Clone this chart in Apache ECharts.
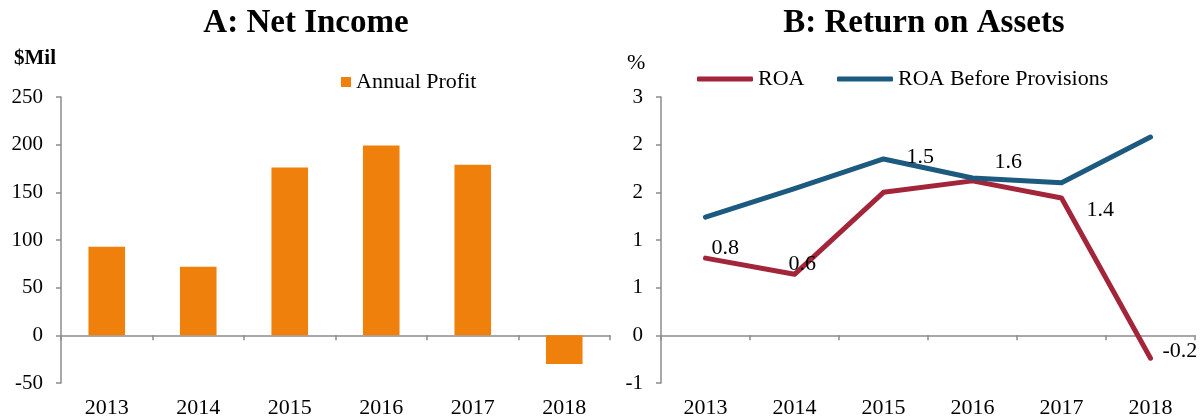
<!DOCTYPE html>
<html>
<head>
<meta charset="utf-8">
<title>Net Income / Return on Assets</title>
<script src="https://cdn.jsdelivr.net/npm/echarts@6/dist/echarts.min.js"></script>
<style>
  html, body { margin: 0; padding: 0; background: #fff; }
  #chart { width: 1201px; height: 419px; }
</style>
</head>
<body>
<div id="chart"></div>
<script>
// data
const years = ['2013', '2014', '2015', '2016', '2017', '2018'];
const annualProfit = [93, 72, 176, 199, 179, -30];
const roa = [0.81, 0.64, 1.50, 1.62, 1.44, -0.24];
const roaBeforeProvisions = [1.24, 1.54, 1.85, 1.65, 1.60, 2.08];

const FONT = '"Liberation Serif", "Times New Roman", serif';
const GRAY = '#8c8c8c';
const ORANGE = '#F0800C';
const RED = '#A2253A';
const BLUE = '#1C5A80';

// Excel style rounding of tick labels (2.5 -> 3, -0.5 -> -1)
const roundAway = v => Math.sign(v) * Math.round(Math.abs(v));

const chart = echarts.init(document.getElementById('chart'));

// axis line + ticks sitting on zero
const zeroAxis = (gridIndex) => ({
  gridIndex,
  type: 'category',
  data: years,
  axisLine: { onZero: true, lineStyle: { color: GRAY, width: 1.5 } },
  axisTick: { show: true, length: 5, lineStyle: { color: GRAY, width: 1.5 } },
  axisLabel: { show: false }
});

// year labels at the bottom of the plot
const labelAxis = (gridIndex) => ({
  gridIndex,
  type: 'category',
  data: years,
  position: 'bottom',
  axisLine: { show: false, onZero: false },
  axisTick: { show: false },
  axisLabel: { margin: 14, fontFamily: FONT, fontSize: 22, color: '#000' }
});

const yAxisBase = (gridIndex) => ({
  gridIndex,
  type: 'value',
  splitLine: { show: false },
  axisLine: { show: true, lineStyle: { color: GRAY, width: 1.5 } },
  axisTick: { show: true, length: 5, lineStyle: { color: GRAY, width: 1.5 } },
  axisLabel: { margin: 18, fontFamily: FONT, fontSize: 21, color: '#000' }
});

const textEl = (text, x, y, size, bold, align) => ({
  type: 'text',
  x, y,
  style: {
    text,
    font: (bold ? 'bold ' : '') + size + 'px ' + FONT,
    fill: '#000',
    align, textAlign: align,
    verticalAlign: 'middle', textVerticalAlign: 'middle'
  }
});

// label offsets for ROA points (right of the point)
const roaLabelOffsets = [[0, -10], [-12, -10], [17, -35], [16, -19], [19, 12], [6, -7]];

chart.setOption({
  animation: false,
  textStyle: { fontFamily: FONT },
  graphic: [
    textEl('A: Net Income', 306, 23, 33, true, 'center'),
    textEl('B: Return on Assets', 924, 23, 33, true, 'center'),
    textEl('$Mil', 14, 59, 21, true, 'left'),
    textEl('%', 627, 63, 22, false, 'left')
  ],
  legend: [
    {
      data: ['Annual Profit'], left: 341, top: 71, padding: 0,
      icon: 'rect', itemWidth: 10, itemHeight: 10,
      textStyle: { fontFamily: FONT, fontSize: 22, color: '#000' }
    },
    {
      data: ['ROA'], left: 697, top: 68, padding: 0,
      icon: 'roundRect', itemWidth: 56, itemHeight: 5,
      textStyle: { fontFamily: FONT, fontSize: 22, color: '#000' }
    },
    {
      data: ['ROA Before Provisions'], left: 837, top: 68, padding: 0,
      icon: 'roundRect', itemWidth: 56, itemHeight: 5,
      textStyle: { fontFamily: FONT, fontSize: 22, color: '#000' }
    }
  ],
  grid: [
    { left: 61, top: 97, width: 549, height: 286, containLabel: false, outerBoundsMode: 'none' },
    { left: 661, top: 97, width: 534, height: 286, containLabel: false, outerBoundsMode: 'none' }
  ],
  xAxis: [zeroAxis(0), zeroAxis(1), labelAxis(0), labelAxis(1)],
  yAxis: [
    Object.assign(yAxisBase(0), { min: -50, max: 250, interval: 50 }),
    Object.assign(yAxisBase(1), {
      min: -0.5, max: 2.5, interval: 0.5,
      axisLabel: Object.assign(yAxisBase(1).axisLabel, { formatter: v => String(roundAway(v)) })
    })
  ],
  series: [
    {
      name: 'Annual Profit',
      type: 'bar',
      xAxisIndex: 0, yAxisIndex: 0,
      barWidth: '40%',
      color: ORANGE,
      itemStyle: { color: ORANGE },
      data: annualProfit
    },
    {
      name: 'ROA',
      type: 'line',
      xAxisIndex: 1, yAxisIndex: 1,
      color: RED,
      symbol: 'circle', symbolSize: 2,
      itemStyle: { color: RED },
      lineStyle: { color: RED, width: 5, cap: 'round', join: 'round' },
      label: {
        show: true, position: 'right', distance: 5,
        fontFamily: FONT, fontSize: 22, color: '#000',
        formatter: p => p.value.toFixed(1)
      },
      data: roa.map((v, i) => ({ value: v, label: { offset: roaLabelOffsets[i] } }))
    },
    {
      name: 'ROA Before Provisions',
      type: 'line',
      xAxisIndex: 1, yAxisIndex: 1,
      color: BLUE,
      symbol: 'circle', symbolSize: 2,
      itemStyle: { color: BLUE },
      lineStyle: { color: BLUE, width: 5, cap: 'round', join: 'round' },
      data: roaBeforeProvisions
    }
  ]
});

window.addEventListener('resize', () => chart.resize());
</script>
</body>
</html>
